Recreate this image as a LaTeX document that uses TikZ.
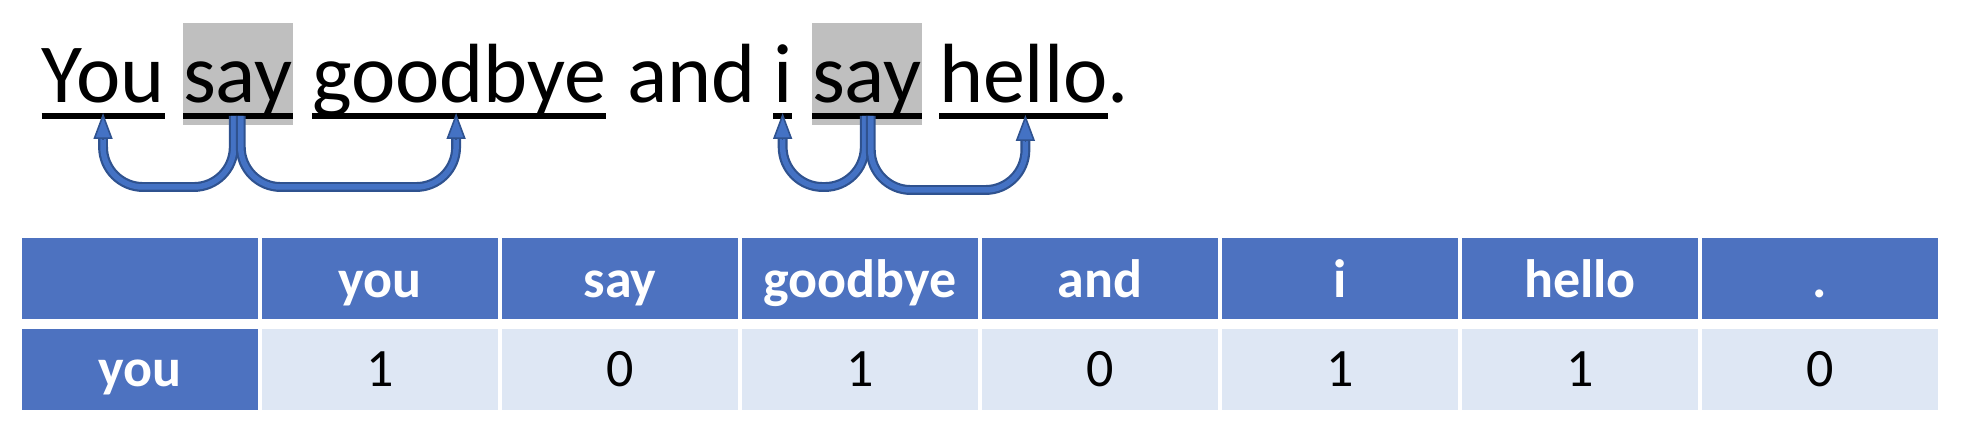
\documentclass[tikz,border=0pt]{standalone}
\usepackage{fontspec}
\setmainfont{Carlito}
\usetikzlibrary{calc,backgrounds,arrows.meta}
\definecolor{arrowlight}{HTML}{4472C4}
\definecolor{arrowdark}{HTML}{2F528F}
\definecolor{hdrblue}{RGB}{77,114,192}
\definecolor{cellblue}{RGB}{222,231,244}
\definecolor{hlgray}{HTML}{BFBFBF}
\begin{document}
\begin{tikzpicture}[x=1pt,y=-1pt,
  word/.style={inner sep=0pt, outer sep=0pt, anchor=base west, font=\fontsize{84}{100}\selectfont},
  uline/.style={line width=6pt},
  hl/.style={fill=hlgray},
  shaft/.style={draw=arrowdark, line width=2.2pt, double=arrowlight, double distance=5.5pt, rounded corners=40pt},
  head/.style={draw=arrowdark, line width=1.6pt, -{Triangle[length=26pt,width=19pt,fill=arrowlight]}},
  cell/.style={minimum width=236pt, minimum height=81pt, inner sep=0pt, outer sep=0pt, text depth=0pt},
  hdr/.style={cell, fill=hdrblue, text=white, font=\fontsize{54}{60}\selectfont\bfseries, text height=38pt},
  hdrrow/.style={cell, fill=hdrblue, text=white, font=\fontsize{54}{60}\selectfont\bfseries, text height=33pt},
  val/.style={cell, fill=cellblue, text=black, font=\fontsize{54}{60}\selectfont, text height=33pt}
]
\useasboundingbox (0,0) rectangle (1962,438);

% sentence
\node[word] (w1) at (41.5,103) {You};
\node[word] (w2) at (183,103) {say};
\node[word] (w3) at (312,103) {goodbye};
\node[word] (w4) at (627,103) {and};
\node[word] (w5) at (773,103) {i};
\node[word] (w6) at (812,103) {say};
\node[word] (w7) at (939,103) {hello};
\node[word] (w8) at (w7.base east) {.};

% highlight boxes
\begin{scope}[on background layer]
  \fill[hl] ($(w2.base west)+(0,-80)$) rectangle ($(w2.base east)+(0,22)$);
  \fill[hl] ($(w6.base west)+(0,-80)$) rectangle ($(w6.base east)+(0,22)$);
\end{scope}

% underlines
\foreach \w in {w1,w2,w3,w5,w6,w7}{
  \draw[uline] ($(\w.base west)+(0,13)$) -- ($(\w.base east)+(0,13)$);
}

% arrows
\coordinate (bot1) at (0,187);
\coordinate (bot2) at (0,190);

\coordinate (s1a) at ($(w2.base)+(-4,13)$);
\coordinate (s1b) at ($(w2.base)+(3,13)$);
\coordinate (t1) at ($(w1.base)+(0,10)$);
\coordinate (t3) at ($(w3.base)+(-3,10)$);
\draw[shaft] (s1a) -- (s1a |- bot1) -- (t1 |- bot1) -- ($(t1)+(0,26)$);
\draw[head] ($(t1)+(0,26)$) -- (t1);
\draw[shaft] (s1b) -- (s1b |- bot1) -- (t3 |- bot1) -- ($(t3)+(0,26)$);
\draw[head] ($(t3)+(0,26)$) -- (t3);

\coordinate (s2a) at ($(w6.base)+(-2,13)$);
\coordinate (s2b) at ($(w6.base)+(4,13)$);
\coordinate (t5) at ($(w5.base)+(0,10)$);
\coordinate (t7) at ($(w7.base)+(2,12)$);
\draw[shaft] (s2a) -- (s2a |- bot1) -- (t5 |- bot1) -- ($(t5)+(0,26)$);
\draw[head] ($(t5)+(0,26)$) -- (t5);
\draw[shaft] (s2b) -- (s2b |- bot2) -- (t7 |- bot2) -- ($(t7)+(0,26)$);
\draw[head] ($(t7)+(0,26)$) -- (t7);

% table header
\node[hdr] (h0) at (140,278.5) {};
\node[hdr] (h1) at (380,278.5) {you};
\node[hdr] (h2) at (620,278.5) {say};
\node[hdr] (h3) at (860,278.5) {goodbye};
\node[hdr] (h4) at (1100,278.5) {and};
\node[hdr] (h5) at (1340,278.5) {i};
\node[hdr] (h6) at (1580,278.5) {hello};
\node[hdr] (h7) at (1820,278.5) {.};

% table row
\node[hdrrow] (r0) at (140,369.5) {you};
\node[val] (r1) at (380,369.5) {1};
\node[val] (r2) at (620,369.5) {0};
\node[val] (r3) at (860,369.5) {1};
\node[val] (r4) at (1100,369.5) {0};
\node[val] (r5) at (1340,369.5) {1};
\node[val] (r6) at (1580,369.5) {1};
\node[val] (r7) at (1820,369.5) {0};
\end{tikzpicture}
\end{document}
